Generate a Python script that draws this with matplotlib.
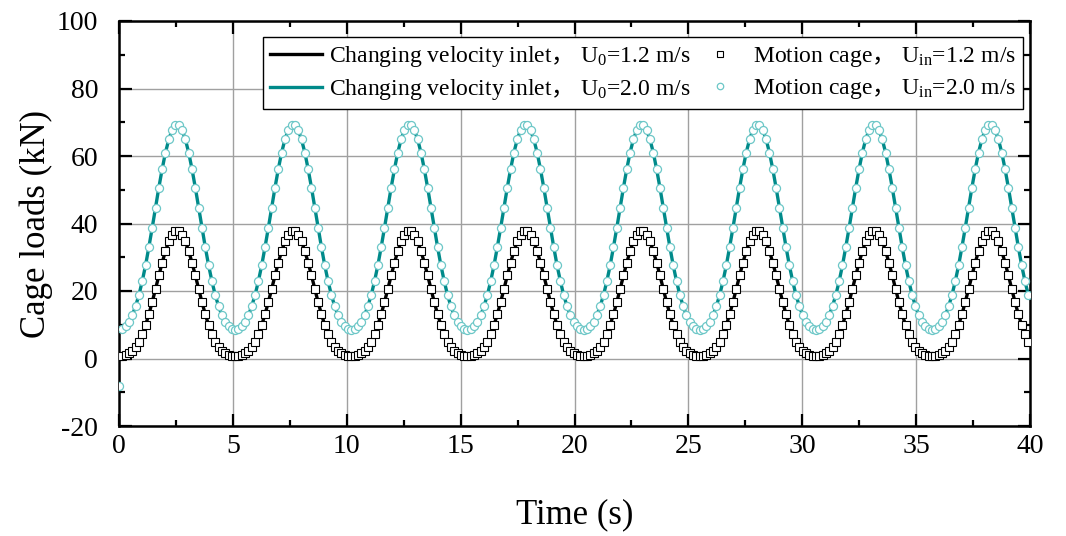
import numpy as np
import matplotlib
matplotlib.use("Agg")
import matplotlib.pyplot as plt
from matplotlib.ticker import MultipleLocator

plt.rcParams['font.family'] = ['Liberation Serif', 'Noto Sans CJK SC', 'DejaVu Sans']
plt.rcParams['mathtext.fontset'] = 'custom'
plt.rcParams['mathtext.rm'] = 'Liberation Serif'
plt.rcParams['mathtext.it'] = 'Liberation Serif:italic'
plt.rcParams['mathtext.sf'] = 'Noto Sans CJK SC'
plt.rcParams['axes.unicode_minus'] = False

# ---------------- data ----------------
dt = 0.145714          # sampling step of the plotted points (s)
n_points = 275

# Changing velocity inlet, U0 = 1.2 m/s  (kN)
inlet_12 = [
    0.7, 0.8, 1.0, 1.5, 2.2, 3.4, 5.0, 7.2, 9.9, 13.1, 16.7, 20.6, 24.6, 28.4, 31.8, 34.7, 36.7, 37.7, 37.7, 36.7, 34.7, 31.8, 28.4, 24.6, 20.6, 16.7, 13.1, 9.9, 7.2, 5.0, 3.4, 2.2, 1.5, 1.0, 0.8,
    0.7, 0.8, 1.0, 1.5, 2.2, 3.4, 5.0, 7.2, 9.9, 13.1, 16.7, 20.6, 24.6, 28.4, 31.8, 34.7, 36.7, 37.7, 37.7, 36.7, 34.7, 31.8, 28.4, 24.6, 20.6, 16.7, 13.1, 9.9, 7.2, 5.0, 3.4, 2.2, 1.5, 1.0, 0.8,
    0.7, 0.8, 1.0, 1.5, 2.2, 3.4, 5.0, 7.2, 9.9, 13.1, 16.7, 20.6, 24.6, 28.4, 31.8, 34.7, 36.7, 37.7, 37.7, 36.7, 34.7, 31.8, 28.4, 24.6, 20.6, 16.7, 13.1, 9.9, 7.2, 5.0, 3.4, 2.2, 1.5, 1.0, 0.8,
    0.7, 0.8, 1.0, 1.5, 2.2, 3.4, 5.0, 7.2, 9.9, 13.1, 16.7, 20.6, 24.6, 28.4, 31.8, 34.7, 36.7, 37.7, 37.7, 36.7, 34.7, 31.8, 28.4, 24.6, 20.6, 16.7, 13.1, 9.9, 7.2, 5.0, 3.4, 2.2, 1.5, 1.0, 0.8,
    0.7, 0.8, 1.0, 1.5, 2.2, 3.4, 5.0, 7.2, 9.9, 13.1, 16.7, 20.6, 24.6, 28.4, 31.8, 34.7, 36.7, 37.7, 37.7, 36.7, 34.7, 31.8, 28.4, 24.6, 20.6, 16.7, 13.1, 9.9, 7.2, 5.0, 3.4, 2.2, 1.5, 1.0, 0.8,
    0.7, 0.8, 1.0, 1.5, 2.2, 3.4, 5.0, 7.2, 9.9, 13.1, 16.7, 20.6, 24.6, 28.4, 31.8, 34.7, 36.7, 37.7, 37.7, 36.7, 34.7, 31.8, 28.4, 24.6, 20.6, 16.7, 13.1, 9.9, 7.2, 5.0, 3.4, 2.2, 1.5, 1.0, 0.8,
    0.7, 0.8, 1.0, 1.5, 2.2, 3.4, 5.0, 7.2, 9.9, 13.1, 16.7, 20.6, 24.6, 28.4, 31.8, 34.7, 36.7, 37.7, 37.7, 36.7, 34.7, 31.8, 28.4, 24.6, 20.6, 16.7, 13.1, 9.9, 7.2, 5.0, 3.4, 2.2, 1.5, 1.0, 0.8,
    0.7, 0.8, 1.0, 1.5, 2.2, 3.4, 5.0, 7.2, 9.9, 13.1, 16.7, 20.6, 24.6, 28.4, 31.8, 34.7, 36.7, 37.7, 37.7, 36.7, 34.7, 31.8, 28.4, 24.6, 20.6, 16.7, 13.1, 9.9, 7.2, 5.0,
]

# Changing velocity inlet, U0 = 2.0 m/s  (kN)
inlet_20 = [
    8.5, 8.8, 9.5, 10.9, 12.8, 15.5, 18.8, 22.9, 27.6, 33.0, 38.7, 44.7, 50.6, 56.1, 61.0, 64.9, 67.7, 69.1, 69.1, 67.7, 64.9, 61.0, 56.1, 50.6, 44.7, 38.7, 33.0, 27.6, 22.9, 18.8, 15.5, 12.8, 10.9, 9.5, 8.8,
    8.5, 8.8, 9.5, 10.9, 12.8, 15.5, 18.8, 22.9, 27.6, 33.0, 38.7, 44.7, 50.6, 56.1, 61.0, 64.9, 67.7, 69.1, 69.1, 67.7, 64.9, 61.0, 56.1, 50.6, 44.7, 38.7, 33.0, 27.6, 22.9, 18.8, 15.5, 12.8, 10.9, 9.5, 8.8,
    8.5, 8.8, 9.5, 10.9, 12.8, 15.5, 18.8, 22.9, 27.6, 33.0, 38.7, 44.7, 50.6, 56.1, 61.0, 64.9, 67.7, 69.1, 69.1, 67.7, 64.9, 61.0, 56.1, 50.6, 44.7, 38.7, 33.0, 27.6, 22.9, 18.8, 15.5, 12.8, 10.9, 9.5, 8.8,
    8.5, 8.8, 9.5, 10.9, 12.8, 15.5, 18.8, 22.9, 27.6, 33.0, 38.7, 44.7, 50.6, 56.1, 61.0, 64.9, 67.7, 69.1, 69.1, 67.7, 64.9, 61.0, 56.1, 50.6, 44.7, 38.7, 33.0, 27.6, 22.9, 18.8, 15.5, 12.8, 10.9, 9.5, 8.8,
    8.5, 8.8, 9.5, 10.9, 12.8, 15.5, 18.8, 22.9, 27.6, 33.0, 38.7, 44.7, 50.6, 56.1, 61.0, 64.9, 67.7, 69.1, 69.1, 67.7, 64.9, 61.0, 56.1, 50.6, 44.7, 38.7, 33.0, 27.6, 22.9, 18.8, 15.5, 12.8, 10.9, 9.5, 8.8,
    8.5, 8.8, 9.5, 10.9, 12.8, 15.5, 18.8, 22.9, 27.6, 33.0, 38.7, 44.7, 50.6, 56.1, 61.0, 64.9, 67.7, 69.1, 69.1, 67.7, 64.9, 61.0, 56.1, 50.6, 44.7, 38.7, 33.0, 27.6, 22.9, 18.8, 15.5, 12.8, 10.9, 9.5, 8.8,
    8.5, 8.8, 9.5, 10.9, 12.8, 15.5, 18.8, 22.9, 27.6, 33.0, 38.7, 44.7, 50.6, 56.1, 61.0, 64.9, 67.7, 69.1, 69.1, 67.7, 64.9, 61.0, 56.1, 50.6, 44.7, 38.7, 33.0, 27.6, 22.9, 18.8, 15.5, 12.8, 10.9, 9.5, 8.8,
    8.5, 8.8, 9.5, 10.9, 12.8, 15.5, 18.8, 22.9, 27.6, 33.0, 38.7, 44.7, 50.6, 56.1, 61.0, 64.9, 67.7, 69.1, 69.1, 67.7, 64.9, 61.0, 56.1, 50.6, 44.7, 38.7, 33.0, 27.6, 22.9, 18.8,
]

# Motion cage results coincide with the inlet curves, except the first
# (start-up) point of the U_in = 2.0 m/s case
cage_12 = list(inlet_12)
cage_20_first = -8.0
cage_20 = [cage_20_first] + list(inlet_20[1:])

x_ticks = [0, 5, 10, 15, 20, 25, 30, 35, 40]
y_ticks = [-20, 0, 20, 40, 60, 80, 100]

# fullwidth comma drawn through the CJK font (mathtext sf slot)
label_inlet_12 = 'Changing velocity inlet$\\mathsf{，}$ U$_0$=1.2 m/s'
label_inlet_20 = 'Changing velocity inlet$\\mathsf{，}$ U$_0$=2.0 m/s'
label_cage_12 = 'Motion cage$\\mathsf{，}$ U$_{\\mathrm{in}}$=1.2 m/s'
label_cage_20 = 'Motion cage$\\mathsf{，}$ U$_{\\mathrm{in}}$=2.0 m/s'

time_s = np.arange(n_points) * dt

# ---------------- figure ----------------
fig = plt.figure(figsize=(10.66, 5.36), dpi=100)
ax = fig.add_axes([119 / 1066, 1 - 426 / 536, (1030 - 119) / 1066, (426 - 21) / 536])

teal = '#008A8A'
light_teal = '#6CC7C7'

l1, = ax.plot(time_s, inlet_12, color='black', lw=2.4, zorder=3, label=label_inlet_12)
l2, = ax.plot(time_s, inlet_20, color=teal, lw=2.4, zorder=3, label=label_inlet_20)
m1, = ax.plot(time_s, cage_12, ls='none', marker='s', ms=5.6, mfc='white', mec='black',
              mew=0.8, zorder=4, label=label_cage_12)
m2, = ax.plot(time_s, cage_20, ls='none', marker='o', ms=5.8, mfc='white', mec=light_teal,
              mew=0.9, zorder=4, label=label_cage_20)

ax.set_xlim(0, 40)
ax.set_ylim(-20, 100)
ax.set_xticks(x_ticks)
ax.set_yticks(y_ticks)
ax.xaxis.set_minor_locator(MultipleLocator(2.5))
ax.yaxis.set_minor_locator(MultipleLocator(10))

ax.grid(True, which='major', color='#a0a0a0', lw=1.0, zorder=0)
ax.set_axisbelow(True)

for s in ax.spines.values():
    s.set_linewidth(1.8)
    s.set_color('black')

ax.tick_params(which='both', direction='in', top=True, right=True, width=1.6)
ax.tick_params(which='major', length=9)
ax.tick_params(which='minor', length=4.5)
ax.tick_params(axis='x', which='major', labelsize=20, pad=6)
ax.tick_params(axis='y', which='major', labelsize=20, pad=15)

ax.set_xlabel('Time (s)', fontsize=25, va='center')
ax.set_ylabel('Cage loads (kN)', fontsize=25, va='center')
ax.xaxis.set_label_coords(0.5, (426 - 515) / 405)
ax.yaxis.set_label_coords((36 - 119) / 911, 0.5)

leg = ax.legend(handles=[l1, l2, m1, m2], ncol=2, loc='upper right',
                bbox_to_anchor=((1023 - 119) / 911, (426 - 37) / 405),
                borderaxespad=0, fontsize=17, frameon=True, fancybox=False,
                edgecolor='black', framealpha=1, handlelength=2.2, handletextpad=0.3,
                columnspacing=0.15, labelspacing=0.35, borderpad=0.3, markerscale=0.8)
leg.get_frame().set_linewidth(1.0)
leg.set_zorder(10)

fig.savefig('out.png', dpi=100)
